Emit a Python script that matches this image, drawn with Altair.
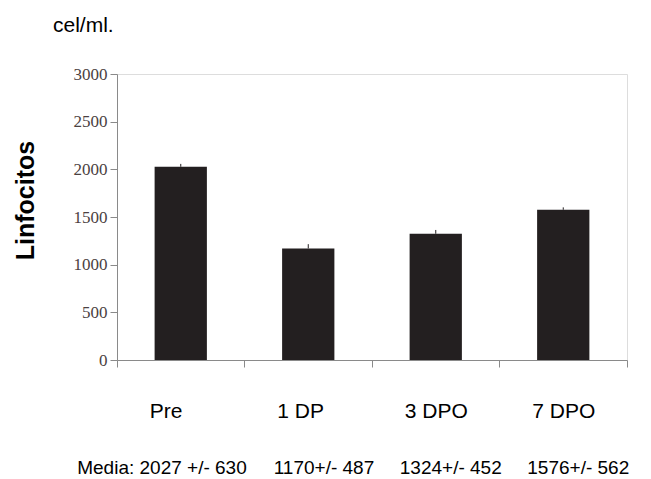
import altair as alt
import pandas as pd

# Linfocitos (cel/ml.) por momento de muestreo
categorias = ["Pre", "1 DP", "3 DPO", "7 DPO"]
media = [2027, 1170, 1324, 1576]
desvio = [630, 487, 452, 562]
error_barra = [30, 45, 40, 25]  # semi-altura de las barras de error dibujadas

y_ticks = [0, 500, 1000, 1500, 2000, 2500, 3000]

etiquetas_media = [f"Media: {media[0]} +/- {desvio[0]}"] + [
    f"{m}+/- {s}" for m, s in zip(media[1:], desvio[1:])
]

df = pd.DataFrame({
    "cat": categorias,
    "media": media,
    "sup": [m + e for m, e in zip(media, error_barra)],
})

GRIS = "#8a8a8a"
x_scale = alt.Scale(domain=categorias, paddingInner=0, paddingOuter=0)
y_scale = alt.Scale(domain=[0, 3000], nice=False)

barras = alt.Chart(df).mark_bar(
    width=alt.RelativeBandSize(0.41), color="#231f20"
).encode(
    x=alt.X("cat:N", scale=x_scale, sort=categorias, axis=alt.Axis(
        orient="bottom", title=None, labels=False, bandPosition=1, tickExtra=True,
        domainColor=GRIS, tickColor=GRIS, tickSize=7, domainWidth=1, tickWidth=1,
        grid=False,
    )),
    y=alt.Y("media:Q", scale=y_scale, axis=alt.Axis(
        orient="left", title="Linfocitos", values=y_ticks, format="d", grid=False,
        domainColor=GRIS, tickColor=GRIS, tickSize=7, labelPadding=3,
        labelFont="Liberation Serif", labelFontSize=17, labelColor="#4b4141",
        titleFont="Liberation Sans", titleFontSize=25, titleFontWeight="bold",
        titleColor="#000000", titleAngle=270, titleAlign="center",
        titleBaseline="alphabetic", titleX=-84, titleY=126,
    )),
)

errores = alt.Chart(df).mark_rule(color="#231f20", strokeWidth=1).encode(
    x=alt.X("cat:N", scale=x_scale, sort=categorias, axis=alt.Axis(
        orient="bottom", title=None, domain=False, ticks=False, tickSize=0,
        grid=False, labelAngle=0, labelOverlap=False,
        labelAlign="left", labelOffset=-31, labelPadding=57,
        labelBaseline="alphabetic",
        labelFont="Liberation Sans", labelFontSize=21, labelColor="#000000",
    )),
    y=alt.Y("media:Q", scale=y_scale, axis=None),
    y2="sup:Q",
)

expr_media = (
    "[" + ",".join(f"'{t}'" for t in etiquetas_media) + "]"
    "[indexof([" + ",".join(f"'{c}'" for c in categorias) + "], datum.value)]"
)

fila_media = alt.Chart(df).mark_point(opacity=0).encode(
    x=alt.X("cat:N", scale=x_scale, sort=categorias, axis=alt.Axis(
        orient="bottom", title=None, domain=False, ticks=False, tickSize=0,
        grid=False, labelAngle=0, labelOverlap=False, labelLimit=400,
        labelExpr=expr_media, labelAlign="right", labelOffset=66,
        labelPadding=113, labelBaseline="alphabetic",
        labelFont="Liberation Sans", labelFontSize=19, labelColor="#000000",
    )),
    y=alt.Y("media:Q", scale=y_scale, axis=None),
)

chart = alt.layer(barras, errores, fila_media).resolve_axis(
    x="independent", y="independent"
).properties(
    width=510,
    height=286,
    padding={"left": 117, "top": 74, "right": 24, "bottom": 119},
    autosize=alt.AutoSizeParams(type="none"),
    title=alt.TitleParams(
        text="cel/ml.", anchor="start", frame="group", dx=-64, offset=12,
        baseline="alphabetic", font="Liberation Sans", fontSize=21,
        fontWeight="normal", color="#000000",
    ),
).configure_view(stroke=None).configure(background="white")

chart.save("out.html", embed_options={"renderer": "svg", "actions": False})
